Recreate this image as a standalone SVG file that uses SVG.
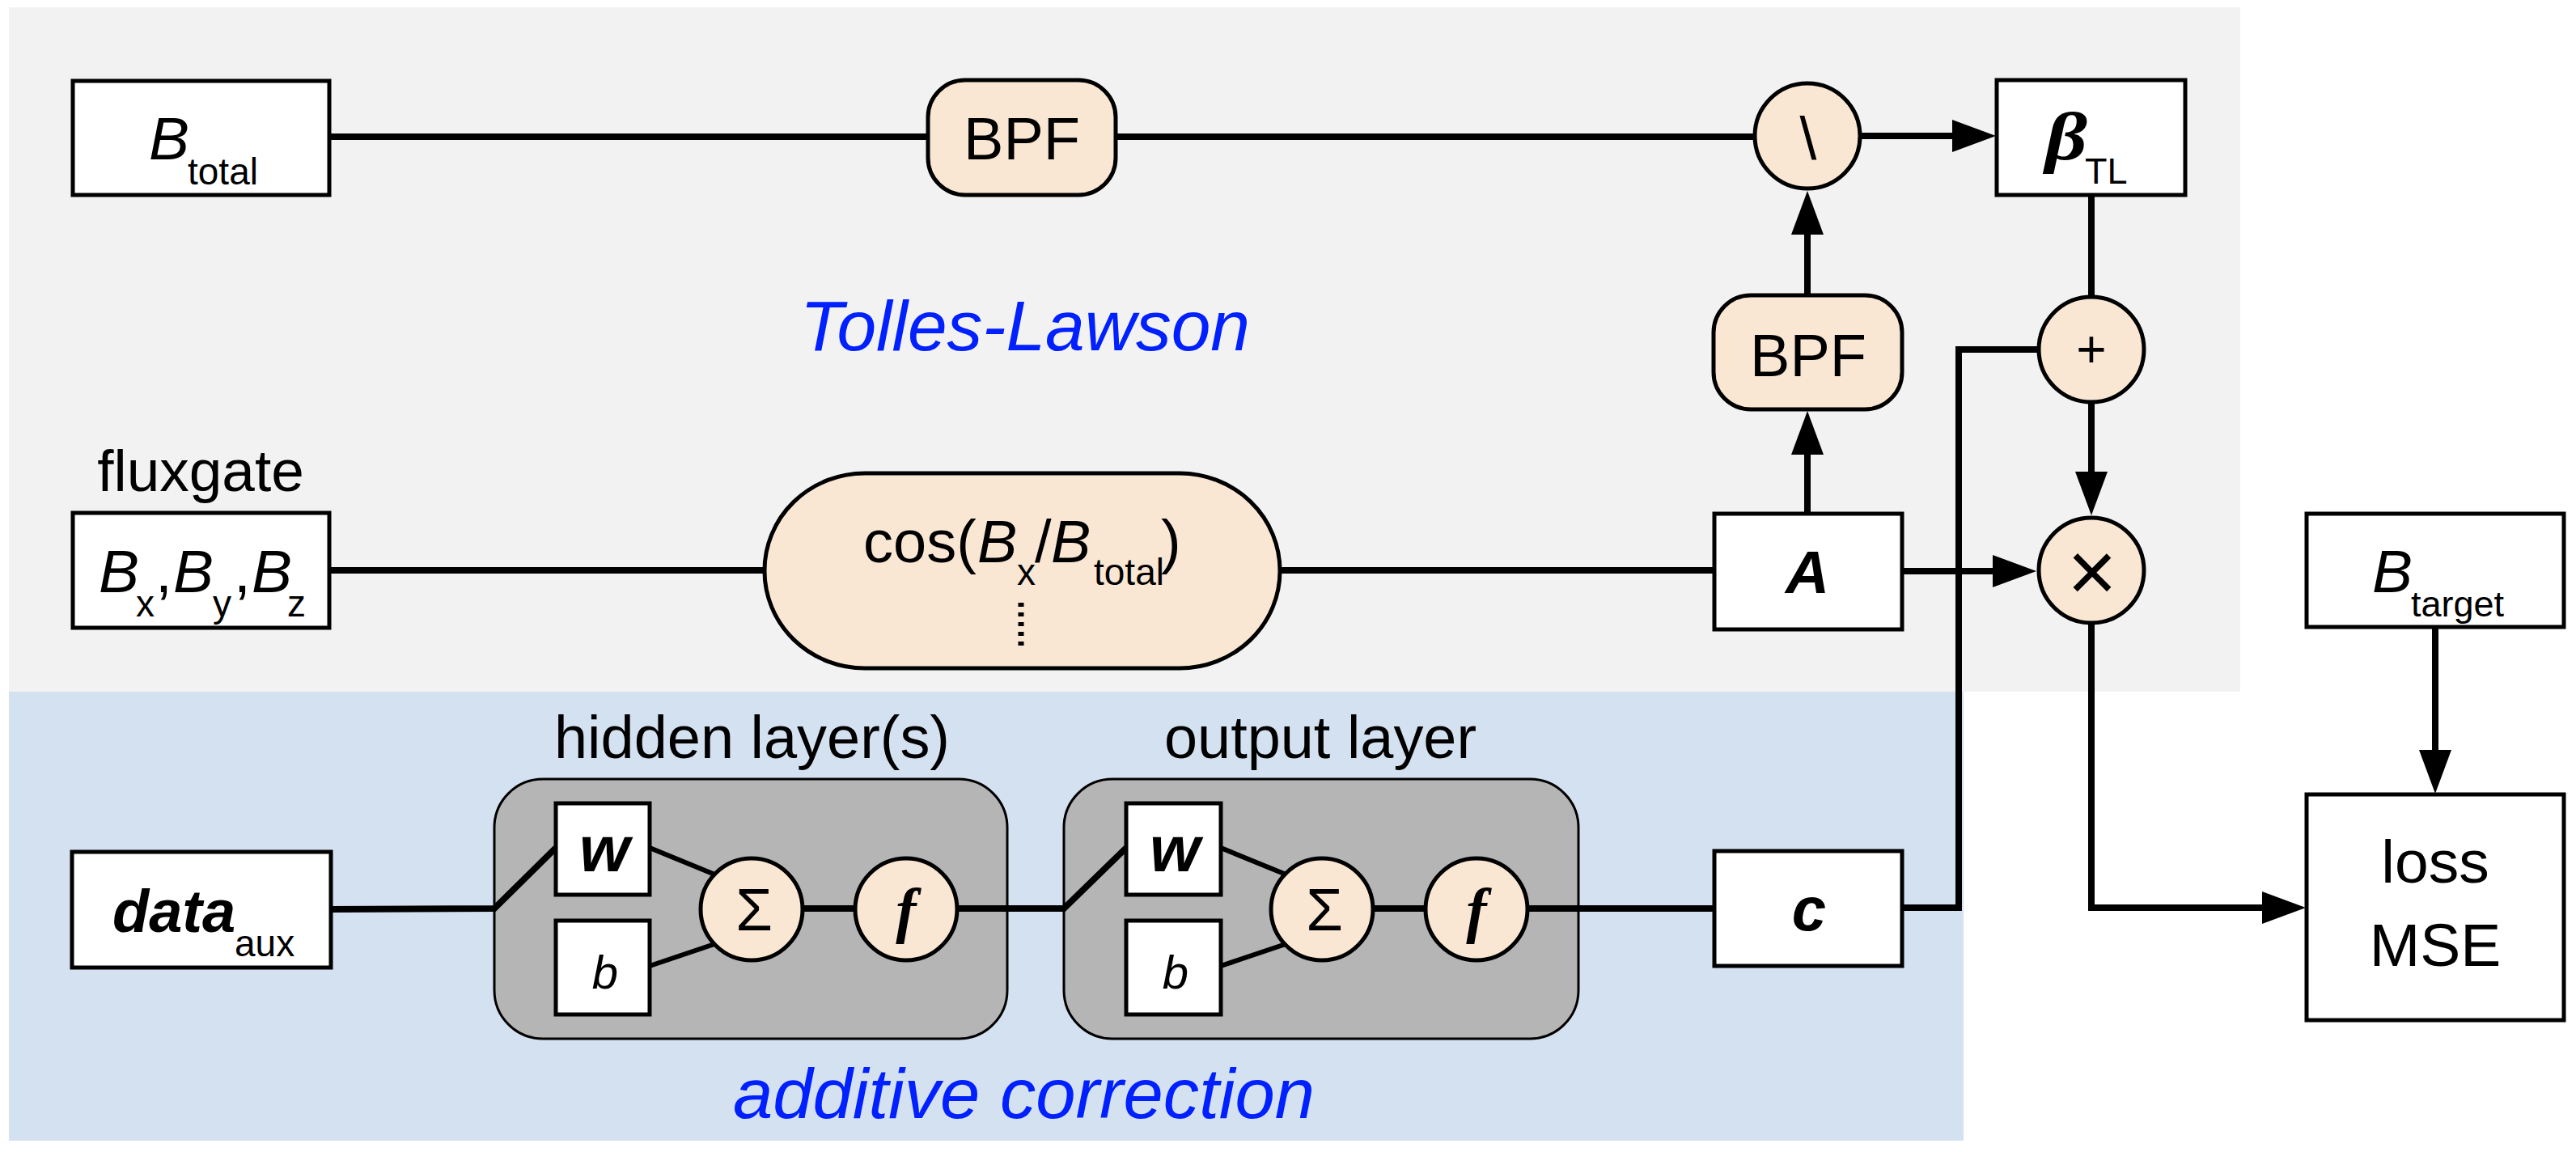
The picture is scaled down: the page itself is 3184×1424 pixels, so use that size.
<svg xmlns="http://www.w3.org/2000/svg" width="3184" height="1424" viewBox="0 0 3184 1424">
<style>
text{font-family:"Liberation Sans",Arial,sans-serif;fill:#000}
.box{fill:#fff;stroke:#000;stroke-width:5}
.op{fill:#f9e6d3;stroke:#000;stroke-width:5}
.layer{fill:#b5b5b5;stroke:#000;stroke-width:3}
.conn{fill:none;stroke:#000;stroke-width:8;stroke-linejoin:miter}
.thin{fill:none;stroke:#000;stroke-width:6}
.it{font-style:italic}
.bi{font-style:italic;font-weight:bold}
.serif{font-family:"Liberation Serif","Times New Roman",serif}
.mid{text-anchor:middle}
.lbl{fill:#0020ff;font-style:italic}
</style>
<defs>
<marker id="ah" markerUnits="userSpaceOnUse" markerWidth="54" markerHeight="40" refX="0" refY="20" orient="auto" viewBox="0 0 54 40" overflow="visible"><path d="M0,0 L54,20 L0,40 z" fill="#000"/></marker>
</defs>
<rect x="11" y="9" width="2758" height="846" fill="#f2f2f2"/>
<rect x="11" y="855" width="2416" height="555" fill="#d4e1f0"/>
<text class="lbl" x="989" y="433" font-size="88" textLength="556" lengthAdjust="spacingAndGlyphs">Tolles-Lawson</text>
<text class="lbl" x="906" y="1382" font-size="88" textLength="719" lengthAdjust="spacingAndGlyphs">additive correction</text>
<text x="248" y="607" font-size="73" class="mid">fluxgate</text>
<text x="685" y="937" font-size="74" textLength="489" lengthAdjust="spacingAndGlyphs">hidden layer(s)</text>
<text x="1439" y="937" font-size="74" textLength="386" lengthAdjust="spacingAndGlyphs">output layer</text>
<g id="hidden-layer"><rect class="layer" x="611" y="963" width="634" height="321" rx="60"/></g>
<g id="output-layer"><rect class="layer" x="1315" y="963" width="636" height="321" rx="60"/></g>
<g id="connectors">
<path class="conn" d="M409 169 L1147 169"/>
<path class="conn" d="M1379 169 L2169 169"/>
<path class="conn" d="M2299 168 L2413 168" marker-end="url(#ah)"/>
<path class="conn" d="M2234 365 L2234 290" marker-end="url(#ah)"/>
<path class="conn" d="M2234 635 L2234 562" marker-end="url(#ah)"/>
<path class="conn" d="M2585 241 L2585 367"/>
<path class="conn" d="M2585 497 L2585 583" marker-end="url(#ah)"/>
<path class="conn" d="M407 705 L945 705"/>
<path class="conn" d="M1582 705 L2119 705"/>
<path class="conn" d="M2351 706 L2463 706" marker-end="url(#ah)"/>
<path class="conn" d="M3010 775 L3010 927" marker-end="url(#ah)"/>
<path class="conn" d="M2585 770 L2585 1122 L2796 1122" marker-end="url(#ah)"/>
<path class="conn" d="M2351 1122 L2421 1122 L2421 432 L2520 432"/>
<path class="conn" d="M409 1124 L611 1123 L687 1048"/>
<path class="conn" d="M990 1123 L1058 1123"/>
<path class="conn" d="M1182 1123 L1315 1123 L1392 1048"/>
<path class="conn" d="M1695 1123 L1763 1123"/>
<path class="conn" d="M1887 1123 L2119 1123"/>
<path class="thin" d="M803 1048 L886 1082"/>
<path class="thin" d="M803 1194 L886 1166"/>
<path class="thin" d="M1509 1048 L1592 1082"/>
<path class="thin" d="M1509 1194 L1592 1166"/>
</g>
<g id="b-total"><rect class="box" x="90" y="100" width="317" height="141"/>
<text font-size="75"><tspan class="it" x="184" y="197">B</tspan><tspan x="232" y="228" font-size="46">total</tspan></text></g>
<g id="fluxgate"><rect class="box" x="90" y="634" width="317" height="142"/>
<text font-size="75"><tspan class="it" x="122" y="732">B</tspan><tspan x="168" y="762" font-size="46">x</tspan><tspan x="192" y="732">,</tspan><tspan class="it" x="214" y="732">B</tspan><tspan x="263" y="762" font-size="46">y</tspan><tspan x="289" y="732">,</tspan><tspan class="it" x="311" y="732">B</tspan><tspan x="355" y="762" font-size="46">z</tspan></text></g>
<g id="data-aux"><rect class="box" x="89" y="1053" width="320" height="143"/>
<text font-size="74"><tspan class="bi" x="139" y="1152">data</tspan><tspan x="290" y="1182" font-size="46">aux</tspan></text></g>
<g id="bpf1"><rect class="op" x="1147" y="99" width="232" height="142" rx="46"/>
<text x="1263" y="197" font-size="74" class="mid">BPF</text></g>
<g id="bpf2"><rect class="op" x="2118" y="365" width="233" height="141" rx="46"/>
<text x="2235" y="465" font-size="74" class="mid">BPF</text></g>
<g id="divide"><circle class="op" cx="2234" cy="168" r="65"/>
<text x="2235" y="197" font-size="75" class="mid">\</text></g>
<g id="beta-tl"><rect class="box" x="2468" y="99" width="233" height="142"/>
<text class="bi serif" x="2528" y="197" font-size="84" textLength="52" lengthAdjust="spacingAndGlyphs">β</text>
<text x="2577" y="227" font-size="45">TL</text></g>
<g id="plus"><circle class="op" cx="2585" cy="432" r="65"/>
<text x="2585" y="454" font-size="64" class="mid">+</text></g>
<g id="times"><circle class="op" cx="2585" cy="705" r="65"/>
<text x="2586" y="743" font-size="105" class="mid">×</text></g>
<g id="cos"><rect class="op" x="945" y="585" width="637" height="241" rx="124" ry="120"/>
<text font-size="74"><tspan x="1067" y="695">cos(</tspan><tspan class="it" x="1208" y="695">B</tspan><tspan x="1257" y="723" font-size="46">x</tspan><tspan x="1279" y="695">/</tspan><tspan class="it" x="1299" y="695">B</tspan><tspan x="1352" y="723" font-size="46">total</tspan><tspan x="1435" y="695">)</tspan></text>
<line x1="1262" y1="745" x2="1262" y2="800" stroke="#000" stroke-width="7" stroke-dasharray="5 7"/></g>
<g id="a-matrix"><rect class="box" x="2119" y="635" width="232" height="143"/>
<text x="2234" y="733" font-size="75" class="mid bi">A</text></g>
<g id="c-coef"><rect class="box" x="2119" y="1052" width="232" height="142"/>
<text x="2236" y="1150" font-size="76" class="mid bi">c</text></g>
<g id="b-target"><rect class="box" x="2851" y="635" width="318" height="140"/>
<text font-size="75"><tspan class="it" x="2932" y="732">B</tspan><tspan x="2980" y="762" font-size="45">target</tspan></text></g>
<g id="loss"><rect class="box" x="2851" y="982" width="318" height="279"/>
<text x="3010" y="1091" font-size="75" class="mid">loss</text>
<text x="3010" y="1194" font-size="75" class="mid">MSE</text></g>
<g id="w1"><rect class="box" x="687" y="993" width="116" height="113"/><text x="747" y="1077" font-size="80" class="mid bi">w</text></g>
<g id="b1"><rect class="box" x="687" y="1138" width="116" height="116"/><text x="748" y="1222" font-size="58" class="mid it">b</text></g>
<g id="sum1"><circle class="op" cx="929" cy="1124" r="63"/><text x="932" y="1150" font-size="74" class="mid">Σ</text></g>
<g id="f1"><circle class="op" cx="1120" cy="1124" r="63"/><text x="1120" y="1151" font-size="76" class="mid bi serif">f</text></g>
<g id="w2"><rect class="box" x="1392" y="993" width="117" height="113"/><text x="1452" y="1077" font-size="80" class="mid bi">w</text></g>
<g id="b2"><rect class="box" x="1392" y="1138" width="117" height="116"/><text x="1453" y="1222" font-size="58" class="mid it">b</text></g>
<g id="sum2"><circle class="op" cx="1634" cy="1124" r="63"/><text x="1637" y="1150" font-size="74" class="mid">Σ</text></g>
<g id="f2"><circle class="op" cx="1825" cy="1124" r="63"/><text x="1825" y="1151" font-size="76" class="mid bi serif">f</text></g>
</svg>
